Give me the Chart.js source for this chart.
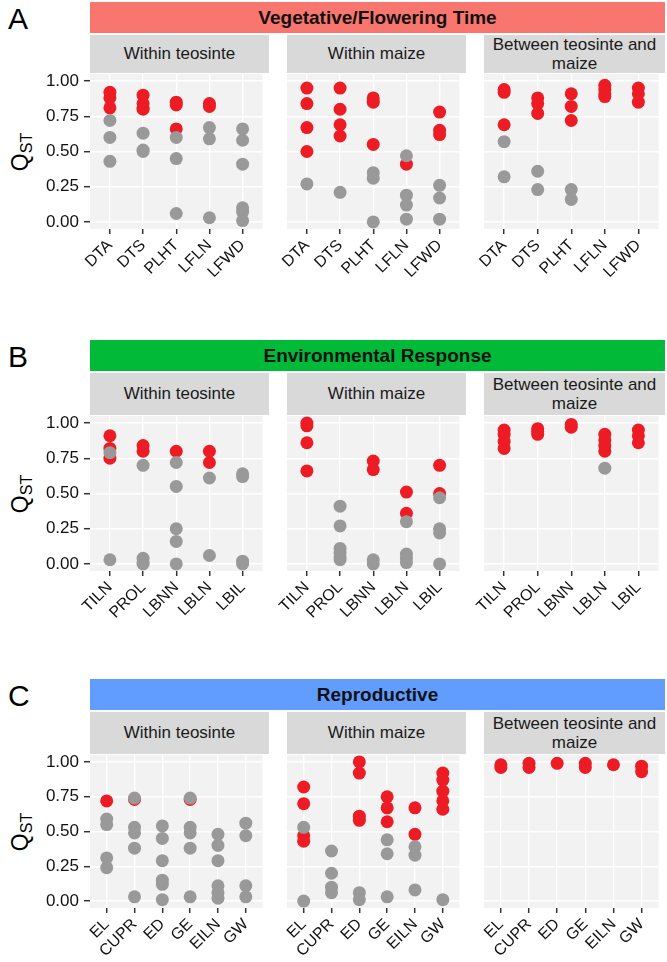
<!DOCTYPE html>
<html>
<head>
<meta charset="utf-8">
<title>QST by trait group</title>
<script src="https://cdn.jsdelivr.net/npm/chart.js@4.4.1/dist/chart.umd.min.js"></script>
<style>
  body { margin: 0; background: #fff; font-family: "Liberation Sans", Arial, sans-serif; }
  #page { position: relative; width: 667px; height: 962px; overflow: hidden; }
  .band { position: absolute; font-weight: bold; font-size: 19px; text-align: center; color: #111; }
  .strip { position: absolute; background: #d9d9d9; font-size: 17px; color: #1a1a1a; text-align: center;
           display: flex; align-items: center; justify-content: center; line-height: 19px; }
  .tag { position: absolute; font-size: 30px; color: #000; }
  .ylab { position: absolute; font-size: 23px; color: #000; white-space: nowrap;
          transform: translate(-50%, -50%) rotate(-90deg); }
  .ylab sub { font-size: 16px; vertical-align: -4px; }
  canvas { position: absolute; }
</style>
</head>
<body>
<div id="page"></div>
<script>
// traits on the x axis of each row
var vegTraits = ['DTA', 'DTS', 'PLHT', 'LFLN', 'LFWD'];
var envTraits = ['TILN', 'PROL', 'LBNN', 'LBLN', 'LBIL'];
var repTraits = ['EL', 'CUPR', 'ED', 'GE', 'EILN', 'GW'];

// QST values, one list per trait (red = significant, grey = not)
var vegTeoRed      = [[0.92, 0.88, 0.81], [0.90, 0.84, 0.81, 0.80], [0.85, 0.83, 0.66], [0.84, 0.82], []];
var vegTeoGrey     = [[0.72, 0.60, 0.43], [0.63, 0.51, 0.50], [0.60, 0.45, 0.06], [0.67, 0.59, 0.03], [0.66, 0.58, 0.41, 0.10, 0.07, 0.01]];
var vegMaizeRed    = [[0.95, 0.84, 0.67, 0.50], [0.95, 0.80, 0.69, 0.61], [0.88, 0.85, 0.55], [0.41], [0.78, 0.65, 0.62]];
var vegMaizeGrey   = [[0.27], [0.21], [0.35, 0.31, 0.00], [0.47, 0.19, 0.12, 0.02], [0.26, 0.17, 0.02]];
var vegBetweenRed  = [[0.94, 0.92, 0.69], [0.88, 0.84, 0.77], [0.91, 0.82, 0.72], [0.97, 0.94, 0.91, 0.89], [0.95, 0.91, 0.85]];
var vegBetweenGrey = [[0.57, 0.32], [0.36, 0.23], [0.23, 0.16], [], []];

var envTeoRed      = [[0.91, 0.82, 0.75], [0.84, 0.80], [0.80], [0.80, 0.72], []];
var envTeoGrey     = [[0.79, 0.03], [0.70, 0.04, 0.01, 0.00], [0.72, 0.55, 0.25, 0.16, 0.00], [0.61, 0.06], [0.64, 0.62, 0.02, 0.00]];
var envMaizeRed    = [[1.00, 0.98, 0.86, 0.66], [], [0.73, 0.67], [0.51, 0.36], [0.70, 0.50]];
var envMaizeGrey   = [[], [0.41, 0.27, 0.11, 0.08, 0.05, 0.03], [0.03, 0.00], [0.30, 0.07, 0.04, 0.01], [0.47, 0.25, 0.22, 0.00]];
var envBetweenRed  = [[0.95, 0.92, 0.87, 0.82], [0.96, 0.94, 0.92], [0.99, 0.97], [0.92, 0.88, 0.84, 0.80], [0.95, 0.91, 0.86]];
var envBetweenGrey = [[], [], [], [0.68], []];

var repTeoRed      = [[0.72], [0.73], [], [0.73], [], []];
var repTeoGrey     = [[0.59, 0.55, 0.31, 0.24], [0.74, 0.53, 0.49, 0.38, 0.03], [0.54, 0.45, 0.29, 0.15, 0.12, 0.01],
                      [0.74, 0.53, 0.49, 0.38, 0.03], [0.48, 0.40, 0.29, 0.11, 0.06, 0.02], [0.56, 0.47, 0.11, 0.03]];
var repMaizeRed    = [[0.82, 0.70, 0.47, 0.43], [], [1.00, 0.92, 0.61, 0.58], [0.75, 0.67, 0.57], [0.67, 0.48], [0.92, 0.87, 0.79, 0.72, 0.66]];
var repMaizeGrey   = [[0.53, 0.00], [0.36, 0.20, 0.10, 0.06], [0.06, 0.01], [0.44, 0.34, 0.03], [0.39, 0.33, 0.08], [0.01]];
var repBetweenRed  = [[0.98, 0.96], [0.99, 0.96], [0.99], [0.99, 0.96], [0.98], [0.97, 0.93]];
var repBetweenGrey = [[], [], [], [], [], []];

var yTicks = [0, 0.25, 0.5, 0.75, 1];
var facets = ['Within teosinte', 'Within maize', 'Between teosinte and<br>maize'];

var RED = '#ed1c24';
var GREY = '#999999';
var LM = 60, TM = 10, BM = 62;   // room round each plot panel for axes
var panelX = [[90, 269], [287, 466], [484, 665]];

var rows = [
    { tag: 'A', title: 'Vegetative/Flowering Time', color: '#f8766d', bandTop: 2, stripTop: 35, plotTop: 74, plotBottom: 229.5,
      traits: vegTraits, red: [vegTeoRed, vegMaizeRed, vegBetweenRed], grey: [vegTeoGrey, vegMaizeGrey, vegBetweenGrey] },
    { tag: 'B', title: 'Environmental Response', color: '#00ba38', bandTop: 340, stripTop: 373, plotTop: 416, plotBottom: 571.5,
      traits: envTraits, red: [envTeoRed, envMaizeRed, envBetweenRed], grey: [envTeoGrey, envMaizeGrey, envBetweenGrey] },
    { tag: 'C', title: 'Reproductive', color: '#619cff', bandTop: 679, stripTop: 712, plotTop: 755, plotBottom: 908,
      traits: repTraits, red: [repTeoRed, repMaizeRed, repBetweenRed], grey: [repTeoGrey, repMaizeGrey, repBetweenGrey] }
];

Chart.defaults.font.family = '"Liberation Sans", Arial, sans-serif';

// grey panel background behind the grid
var panelBg = {
    id: 'panelBg',
    beforeDraw: function (chart) {
        var a = chart.chartArea, c = chart.ctx;
        c.save();
        c.fillStyle = '#f2f2f2';
        c.fillRect(a.left, a.top, a.right - a.left, a.bottom - a.top);
        c.restore();
    }
};

function points(lists) {
    var out = [];
    lists.forEach(function (vals, i) {
        vals.forEach(function (v) { out.push({ x: i + 1, y: v }); });
    });
    return out;
}

function addDiv(cls, html, css) {
    var d = document.createElement('div');
    d.className = cls;
    d.innerHTML = html;
    for (var k in css) d.style[k] = css[k];
    document.getElementById('page').appendChild(d);
    return d;
}

rows.forEach(function (row) {
    var ph = row.plotBottom - row.plotTop;

    addDiv('tag', row.tag, { left: '8px', top: (row.bandTop + 1) + 'px', lineHeight: '31px' });
    addDiv('band', row.title, { left: '90px', width: '575px', top: row.bandTop + 'px', height: '31px',
        lineHeight: '31px', background: row.color });
    addDiv('ylab', 'Q<sub>ST</sub>', { left: '21px', top: ((row.plotTop + row.plotBottom) / 2) + 'px' });

    panelX.forEach(function (px, p) {
        var pw = px[1] - px[0];
        var first = p === 0;
        var traits = row.traits;

        addDiv('strip', facets[p], { left: px[0] + 'px', width: pw + 'px', top: row.stripTop + 'px',
            height: (row.plotTop - 1.5 - row.stripTop) + 'px' });

        var cv = document.createElement('canvas');
        cv.width = LM + pw;
        cv.height = TM + ph + BM;
        cv.style.left = (px[0] - LM) + 'px';
        cv.style.top = (row.plotTop - TM) + 'px';
        document.getElementById('page').appendChild(cv);

        new Chart(cv.getContext('2d'), {
            type: 'scatter',
            data: {
                datasets: [
                    { label: 'ns', data: points(row.grey[p]), backgroundColor: GREY, pointRadius: 6.5,
                      borderWidth: 0, order: 0, clip: false },
                    { label: 'sig', data: points(row.red[p]), backgroundColor: RED, pointRadius: 6.5,
                      borderWidth: 0, order: 1, clip: false }
                ]
            },
            options: {
                responsive: false,
                animation: false,
                devicePixelRatio: 1,
                events: [],
                layout: { padding: { top: TM, left: 0, right: 0, bottom: 0 } },
                plugins: { legend: { display: false }, tooltip: { enabled: false } },
                scales: {
                    x: {
                        type: 'linear',
                        min: 0.4,
                        max: traits.length + 0.6,
                        afterBuildTicks: function (s) {
                            s.ticks = traits.map(function (t, i) { return { value: i + 1 }; });
                        },
                        afterFit: function (s) {
                            s.height = BM;
                            s.paddingLeft = 0;
                            s.paddingRight = 0;
                        },
                        ticks: {
                            autoSkip: false, minRotation: 45, maxRotation: 45, padding: 2,
                            color: '#111', font: { size: 16 },
                            callback: function (v) { return traits[v - 1]; }
                        },
                        grid: { color: '#ffffff', lineWidth: 1.4, tickColor: '#333', tickLength: 5, tickWidth: 1.5 },
                        border: { display: false }
                    },
                    y: {
                        min: -0.05,
                        max: 1.05,
                        afterBuildTicks: function (s) {
                            s.ticks = yTicks.map(function (v) { return { value: v }; });
                        },
                        afterFit: function (s) {
                            s.width = LM;
                            s.paddingTop = 0;
                            s.paddingBottom = 0;
                        },
                        ticks: {
                            display: first, padding: 5, color: '#111', font: { size: 17 },
                            callback: function (v) { return v.toFixed(2); }
                        },
                        grid: { color: '#ffffff', lineWidth: 1.4, drawTicks: first, tickColor: '#333', tickLength: 6, tickWidth: 1.5 },
                        border: { display: false }
                    }
                }
            },
            plugins: [panelBg]
        });
    });
});
</script>
</body>
</html>
